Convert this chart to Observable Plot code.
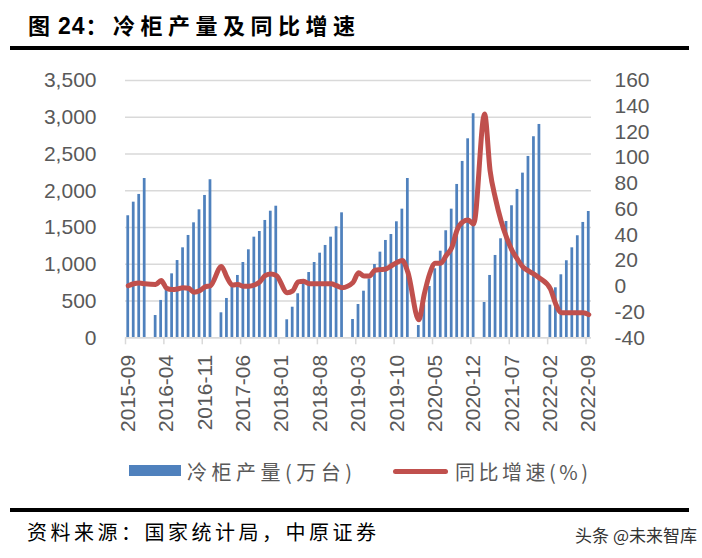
<!DOCTYPE html>
<html><head><meta charset="utf-8">
<script src="https://cdn.jsdelivr.net/npm/d3@7"></script>
<script src="https://cdn.jsdelivr.net/npm/@observablehq/plot@0.6"></script>
<style>
html,body{margin:0;padding:0;background:#fff;}
#wrap{position:relative;width:702px;height:558px;overflow:hidden;background:#fff;font-family:"Noto Sans CJK SC",sans-serif;}
.abs{position:absolute;white-space:nowrap;}
#chart{position:absolute;left:0;top:0;}
</style>
</head><body>
<div id="wrap">
  <div class="abs" id="title" style="left:28px;top:12px;font-size:22px;line-height:24px;font-weight:bold;color:#000;letter-spacing:5.5px;"><span style="letter-spacing:0;margin-right:8px">图</span><span style="font-family:'Liberation Sans',Arial,sans-serif;letter-spacing:1px;font-size:23px">24</span>：冷柜产量及同比增速</div>
  <div class="abs" style="left:10px;top:46px;width:679px;height:4px;background:#000;"></div>
  <div id="chart"></div>
  <div class="abs" style="left:129px;top:465px;width:52px;height:11px;background:#4F81BD;"></div>
  <div class="abs" style="left:187px;top:460px;font-size:20px;line-height:24px;color:#595959;letter-spacing:4.5px;">冷柜产量(万台)</div>
  <div class="abs" style="left:393px;top:468.5px;width:55px;height:5px;border-radius:3px;background:#C0504D;"></div>
  <div class="abs" style="left:455px;top:460px;font-size:20px;line-height:24px;color:#595959;letter-spacing:3.5px;">同比增速(%)</div>
  <div class="abs" style="left:10px;top:508px;width:679px;height:4px;background:#000;"></div>
  <div class="abs" style="left:27px;top:520px;font-size:20px;line-height:24px;color:#000;letter-spacing:3.5px;">资料来源：国家统计局，中原证券</div>
  <div class="abs" style="right:5px;top:524px;font-size:17px;line-height:22px;color:#333;">头条 @未来智库</div>
</div>
<script>
// Categories: monthly, 2015-09 .. 2022-09
const months = [];
for (let y = 2015; y <= 2022; y++) {
  for (let m = 1; m <= 12; m++) {
    if ((y === 2015 && m < 9) || (y === 2022 && m > 9)) continue;
    months.push(`${y}-${String(m).padStart(2, "0")}`);
  }
}
// 冷柜产量 (万台), cumulative within year; January not reported
const output = [
  1660,1845,1950,2167,
  null,303,508,690,870,1051,1224,1392,1564,1741,1936,2150,
  null,340,535,689,848,1024,1197,1369,1446,1596,1722,1790,
  null,245,416,599,750,888,1024,1151,1256,1369,1510,1700,
  null,249,453,634,802,997,1165,1324,1405,1578,1750,2167,
  null,167,449,698,939,1178,1456,1750,2086,2399,2707,3048,
  null,480,848,1120,1347,1582,1796,2018,2240,2467,2735,2902,
  null,444,680,857,1048,1224,1388,1569,1718
];
// 同比增速 (%)
const yoy = [
  0.5,2,2.5,2,
  null,1.5,4.5,-1.5,-2.5,-2,-1,-1.5,-4.5,-3.5,-0.5,0.5,
  null,15.5,7,1,1.5,0,0,1,3.5,8.5,9.5,8.5,
  null,-5,-3.5,3.5,4,2,2,2,2,2,0.5,-1,
  null,3,10.5,8,8,12.5,13,13.5,16,18.5,20,11,
  null,-26,-6,10,18,18,24,30,44,50,51.5,48.5,
  null,134,90,68,51,38,28,21,15,12,9.5,6.5,
  null,-2,-14,-20.5,-20.5,-20.5,-20.5,-20.5,-22
];
const tickLabels = ["2015-09","2016-04","2016-11","2017-06","2018-01","2018-08","2019-03","2019-10","2020-05","2020-12","2021-07","2022-02","2022-09"];
const leftTicks = [0,500,1000,1500,2000,2500,3000,3500];
const rightTicks = [-40,-20,0,20,40,60,80,100,120,140,160];

const rMin = -40, rMax = 160, lMax = 3500;
const toL = v => (v - rMin) * lMax / (rMax - rMin);
const fromL = v => v * (rMax - rMin) / lMax + rMin;

const rows = months.map((m, i) => ({i, m, v: output[i], r: yoy[i]}));
const barRows = rows.filter(d => d.v != null);
const lineRows = rows.filter(d => d.r != null);
const labelIdx = tickLabels.map(l => months.indexOf(l));
const boundIdx = labelIdx.map(i => i - 0.5);

const font = "'Liberation Sans', Arial, sans-serif";
const chart = Plot.plot({
  width: 702,
  height: 440,
  marginTop: 80,
  marginBottom: 102.7,
  marginLeft: 125,
  marginRight: 111,
  x: {type: "linear", domain: [-0.5, months.length - 0.5]},
  y: {domain: [0, lMax]},
  style: {fontFamily: font, fontSize: "21px", color: "#595959", background: "transparent"},
  marks: [
    Plot.gridY(leftTicks, {stroke: "#d9d9d9", strokeOpacity: 1, strokeWidth: 1.4}),
    Plot.rectY(barRows, {x1: d => d.i - 0.25, x2: d => d.i + 0.25, y1: 0, y2: "v", fill: "#4F81BD"}),
    Plot.ruleY([0], {stroke: "#d9d9d9", strokeWidth: 1.5}),
    Plot.axisX({ticks: boundIdx, tickSize: 7, tickFormat: () => "", stroke: "#d9d9d9", strokeWidth: 1.5, label: null}),
    Plot.axisX({ticks: labelIdx, tickSize: 0, tickPadding: 17, tickRotate: -90, tickFormat: i => months[i], fill: "#595959", fontSize: 21, label: null}),
    Plot.axisY({ticks: leftTicks, anchor: "left", tickSize: 0, tickPadding: 29, tickFormat: d3.format(","), fill: "#595959", fontSize: 21, label: null}),
    Plot.axisY({ticks: rightTicks.map(toL), anchor: "right", tickSize: 0, tickPadding: 23, tickFormat: d => String(Math.round(fromL(d))), fill: "#595959", fontSize: 21, label: null}),
    Plot.line(lineRows, {x: "i", y: d => toL(d.r), stroke: "#C0504D", strokeWidth: 5, curve: "monotone-x", strokeLinejoin: "round", strokeLinecap: "round"})
  ]
});
document.getElementById("chart").appendChild(chart);
</script>
</body></html>
